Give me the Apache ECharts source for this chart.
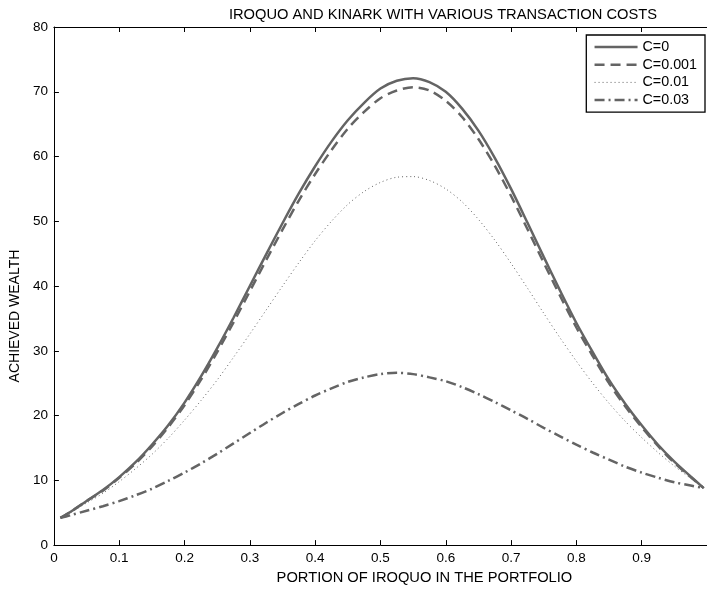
<!DOCTYPE html>
<html>
<head>
<meta charset="utf-8">
<script src="https://cdn.jsdelivr.net/npm/echarts@6/dist/echarts.min.js"></script>
<style>html,body{margin:0;padding:0;background:#fff;}#chart{width:707px;height:590px;}</style>
</head>
<body>
<div id="chart"></div>
<script>
const xValues = [0.01, 0.025, 0.05, 0.075, 0.1, 0.125, 0.15, 0.175, 0.2, 0.225, 0.25, 0.275, 0.3, 0.325, 0.35, 0.375, 0.4, 0.425, 0.45, 0.475, 0.5, 0.525, 0.55, 0.575, 0.6, 0.625, 0.65, 0.675, 0.7, 0.725, 0.75, 0.775, 0.8, 0.825, 0.85, 0.875, 0.9, 0.925, 0.95, 0.975, 0.995];
const c0    = [4.2, 5.1, 6.8, 8.5, 10.5, 12.8, 15.5, 18.5, 22.0, 26.0, 30.4, 35.1, 40.0, 44.9, 49.7, 54.3, 58.5, 62.3, 65.6, 68.3, 70.5, 71.7, 72.1, 71.5, 70.0, 67.4, 64.0, 59.8, 55.0, 49.8, 44.5, 39.3, 34.3, 29.8, 25.5, 21.8, 18.5, 15.5, 12.9, 10.6, 8.8];
const c0001 = [4.2, 5.1, 6.8, 8.4, 10.4, 12.6, 15.2, 18.2, 21.6, 25.5, 29.8, 34.4, 39.2, 44.0, 48.7, 53.2, 57.3, 61.0, 64.3, 66.9, 69.0, 70.2, 70.7, 70.2, 68.6, 66.1, 62.7, 58.6, 53.9, 48.8, 43.6, 38.5, 33.6, 29.2, 25.0, 21.4, 18.2, 15.3, 12.7, 10.5, 8.8];
const c001  = [4.2, 5.0, 6.5, 8.0, 9.8, 11.8, 14.0, 16.5, 19.3, 22.3, 25.5, 29.0, 32.6, 36.3, 40.0, 43.6, 47.0, 50.0, 52.6, 54.6, 56.0, 56.8, 56.9, 56.3, 55.0, 53.0, 50.3, 47.1, 43.5, 39.7, 35.8, 32.0, 28.4, 25.0, 21.9, 19.1, 16.6, 14.3, 12.2, 10.3, 8.8];
const c003  = [4.2, 4.6, 5.3, 6.0, 6.8, 7.7, 8.7, 9.9, 11.2, 12.6, 14.1, 15.7, 17.3, 18.9, 20.4, 21.8, 23.1, 24.2, 25.2, 25.9, 26.4, 26.6, 26.4, 25.9, 25.3, 24.4, 23.3, 22.1, 20.8, 19.5, 18.1, 16.8, 15.5, 14.3, 13.2, 12.1, 11.2, 10.4, 9.7, 9.2, 8.8];
const seriesNames = ['C=0', 'C=0.001', 'C=0.01', 'C=0.03'];
const yTicks = [0, 10, 20, 30, 40, 50, 60, 70, 80];

const pairs = arr => xValues.map((x, i) => [x, arr[i]]);
const gray = '#646464';
const font = 'Liberation Sans, Arial, sans-serif';

const chart = echarts.init(document.getElementById('chart'), null, {renderer: 'canvas'});
const lineStyles = [
  {width: 2.5, type: 'solid'},
  {width: 2.5, type: [10, 6]},
  {width: 1, type: [1, 3]},
  {width: 2.5, type: [10, 4, 2, 4]}
];
const data = [c0, c0001, c001, c003];

chart.setOption({
  animation: false,
  backgroundColor: '#fff',
  title: {
    text: 'IROQUO AND KINARK WITH VARIOUS TRANSACTION COSTS',
    left: 438, top: 2, textAlign: 'center',
    textStyle: {fontFamily: font, fontSize: 14.7, fontWeight: 'normal', color: '#000'}
  },
  grid: {left: 52, top: 27, right: -3, bottom: 42, show: false},
  legend: {
    right: 2, top: 35,
    orient: 'vertical',
    align: 'left',
    backgroundColor: '#fff',
    borderColor: '#000', borderWidth: 1.3,
    padding: [5, 8, 5, 7],
    itemGap: 3.7,
    itemWidth: 43, itemHeight: 14,
    itemStyle: {opacity: 0},
    textStyle: {fontFamily: font, fontSize: 14.3, color: '#000'},
    data: seriesNames.map((n, i) => ({
      name: n,
      lineStyle: {width: lineStyles[i].width, type: lineStyles[i].type, color: gray}
    }))
  },
  xAxis: [{
    type: 'value', min: 0, max: 1, interval: 0.1,
    position: 'bottom',
    name: 'PORTION OF IROQUO IN THE PORTFOLIO',
    nameLocation: 'middle', nameGap: 22,
    nameTextStyle: {fontFamily: font, fontSize: 14.7, color: '#000', padding: [0, 0, 0, 88]},
    axisLine: {lineStyle: {color: '#000', width: 1}},
    axisTick: {inside: true, length: 5, lineStyle: {color: '#000'}},
    axisLabel: {fontFamily: font, fontSize: 13.5, color: '#000', margin: 6, showMaxLabel: false},
    splitLine: {show: false}
  }, {
    type: 'value', min: 0, max: 1, interval: 0.1,
    position: 'top',
    axisLine: {lineStyle: {color: '#000', width: 1}},
    axisTick: {inside: true, length: 5, lineStyle: {color: '#000'}},
    axisLabel: {show: false},
    splitLine: {show: false}
  }],
  yAxis: [{
    type: 'value', min: 0, max: 80, interval: 10,
    name: 'ACHIEVED WEALTH',
    nameLocation: 'middle', nameGap: 30, nameRotate: 90,
    nameTextStyle: {fontFamily: font, fontSize: 14, color: '#000', padding: [0, 60, 0, 0]},
    axisLine: {show: true, lineStyle: {color: '#000', width: 1}},
    axisTick: {show: true, inside: true, length: 5, lineStyle: {color: '#000'}},
    axisLabel: {fontFamily: font, fontSize: 13.5, color: '#000', margin: 6,
      formatter: v => yTicks.includes(v) ? String(v) : ''},
    splitLine: {show: false}
  }],
  series: seriesNames.map((n, i) => ({
    name: n, type: 'line', xAxisIndex: 0, yAxisIndex: 0,
    data: pairs(data[i]),
    smooth: 0.3, showSymbol: false, symbol: 'none',
    lineStyle: Object.assign({color: gray}, lineStyles[i]),
    itemStyle: {color: gray}
  }))
});
</script>
</body>
</html>
